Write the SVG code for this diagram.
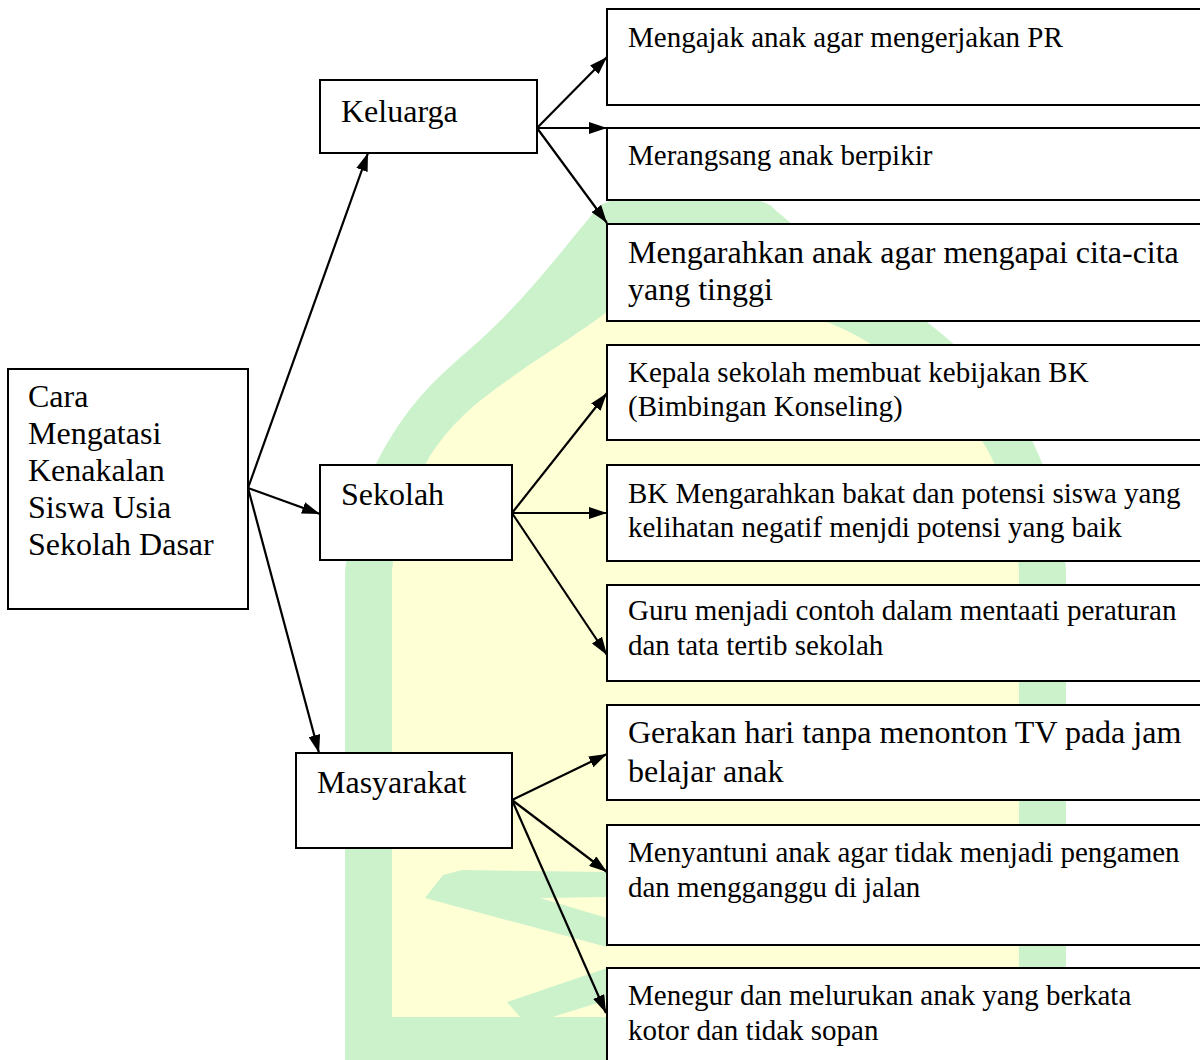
<svg xmlns="http://www.w3.org/2000/svg" width="1200" height="1060" viewBox="0 0 1200 1060">
<defs>
<style>
.box{fill:#ffffff;stroke:#000000;stroke-width:2}
.t{font-family:"Liberation Serif","Times New Roman",serif;fill:#000000}
.s{font-size:29px}
.b{font-size:32px}
.c{fill:none;stroke:#000000;stroke-width:2.2}
</style>
<marker id="ah" viewBox="0 0 18 12" refX="18" refY="6" markerWidth="18" markerHeight="12" markerUnits="userSpaceOnUse" orient="auto">
<path d="M0,0 L18,6 L0,12 z" fill="#000000"/>
</marker>
</defs>
<rect width="1200" height="1060" fill="#ffffff"/>
<g id="watermark">
<path d="M345,1060 L345,571 C352,520 362,490 380,456 C410,400 440,375 479,341 C530,295 570,240 600,205 L690,170 L770,205 C830,260 890,290 942,334 C985,370 1020,410 1036,449 C1055,490 1064,530 1066,571 L1066,1060 Z" fill="#ccf2cc"/>
<path d="M392,1017 L392,571 C398,520 410,490 430,456 C460,410 495,390 529,365 C560,345 590,325 608,311 L700,260 L827,322 C860,335 880,350 902,365 C940,395 970,420 987,449 C1007,485 1016,525 1019,571 L1019,1017 Z" fill="#ffffd6"/>
<path d="M425,898 L443,875 L462,870 L607,872 L607,897 L540,898 Z" fill="#ccf2cc"/>
<path d="M425,898 L540,898 L607,918 L607,947 Z" fill="#ccf2cc"/>
<path d="M507,1002 L607,968 L607,1000 L527,1025 Z" fill="#ccf2cc"/>
</g>
<g id="connectors">
<path class="c" d="M248,488 L368,153" marker-end="url(#ah)"/>
<path class="c" d="M248,488 L320,514" marker-end="url(#ah)"/>
<path class="c" d="M248,488 L319,753" marker-end="url(#ah)"/>
<path class="c" d="M537,128 L607,57" marker-end="url(#ah)"/>
<path class="c" d="M537,128 L607,128" marker-end="url(#ah)"/>
<path class="c" d="M537,128 L607,223" marker-end="url(#ah)"/>
<path class="c" d="M512,513 L607,393" marker-end="url(#ah)"/>
<path class="c" d="M512,513 L607,513" marker-end="url(#ah)"/>
<path class="c" d="M512,513 L607,655" marker-end="url(#ah)"/>
<path class="c" d="M512,800 L607,754" marker-end="url(#ah)"/>
<path class="c" d="M512,800 L607,872" marker-end="url(#ah)"/>
<path class="c" d="M512,800 L606,1013" marker-end="url(#ah)"/>
</g>
<g id="root">
<rect class="box" x="8" y="369" width="240" height="240"/>
<text class="t b" x="28" y="407">Cara</text>
<text class="t b" x="28" y="444">Mengatasi</text>
<text class="t b" x="28" y="481">Kenakalan</text>
<text class="t b" x="28" y="518">Siswa Usia</text>
<text class="t b" x="28" y="555">Sekolah Dasar</text>
</g>
<g id="keluarga">
<rect class="box" x="320" y="80" width="217" height="73"/>
<text class="t b" x="341" y="122">Keluarga</text>
</g>
<g id="sekolah">
<rect class="box" x="320" y="465" width="192" height="95"/>
<text class="t b" x="341" y="505">Sekolah</text>
</g>
<g id="masyarakat">
<rect class="box" x="296" y="753" width="216" height="95"/>
<text class="t b" x="317" y="793">Masyarakat</text>
</g>
<g id="k1">
<rect class="box" x="607" y="9" width="620" height="96"/>
<text class="t s" x="628" y="47">Mengajak anak agar mengerjakan PR</text>
</g>
<g id="k2">
<rect class="box" x="607" y="128" width="620" height="72"/>
<text class="t s" x="628" y="165">Merangsang anak berpikir</text>
</g>
<g id="k3">
<rect class="box" x="607" y="224" width="620" height="97"/>
<text class="t b" x="628" y="263">Mengarahkan anak agar mengapai cita-cita</text>
<text class="t b" x="628" y="300">yang tinggi</text>
</g>
<g id="s1">
<rect class="box" x="607" y="345" width="620" height="95"/>
<text class="t s" x="628" y="382">Kepala sekolah membuat kebijakan BK</text>
<text class="t s" x="628" y="416">(Bimbingan Konseling)</text>
</g>
<g id="s2">
<rect class="box" x="607" y="465" width="620" height="96"/>
<text class="t s" x="628" y="503">BK Mengarahkan bakat dan potensi siswa yang</text>
<text class="t s" x="628" y="537">kelihatan negatif menjdi potensi yang baik</text>
</g>
<g id="s3">
<rect class="box" x="607" y="585" width="620" height="96"/>
<text class="t s" x="628" y="620">Guru menjadi contoh dalam mentaati peraturan</text>
<text class="t s" x="628" y="655">dan tata tertib sekolah</text>
</g>
<g id="m1">
<rect class="box" x="607" y="705" width="620" height="95"/>
<text class="t b" x="628" y="743">Gerakan hari tanpa menonton TV pada jam</text>
<text class="t b" x="628" y="782">belajar anak</text>
</g>
<g id="m2">
<rect class="box" x="607" y="825" width="620" height="120"/>
<text class="t s" x="628" y="862">Menyantuni anak agar tidak menjadi pengamen</text>
<text class="t s" x="628" y="897">dan mengganggu di jalan</text>
</g>
<g id="m3">
<rect class="box" x="607" y="968" width="620" height="120"/>
<text class="t s" x="628" y="1005">Menegur dan melurukan anak yang berkata</text>
<text class="t s" x="628" y="1040">kotor dan tidak sopan</text>
</g>
</svg>
